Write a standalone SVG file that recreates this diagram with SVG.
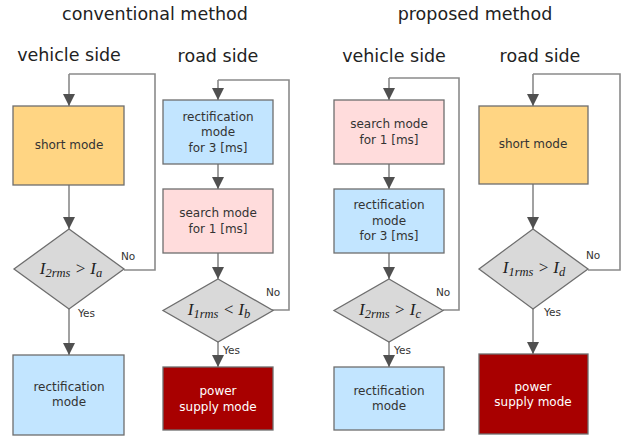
<svg xmlns="http://www.w3.org/2000/svg" width="626" height="438" viewBox="0 0 626 438">
<defs>
<style>
.h{font-family:"DejaVu Sans","Verdana",sans-serif;font-size:17.5px;fill:#222;text-anchor:middle}
.t{font-family:"DejaVu Sans",sans-serif;font-size:12px;fill:#333;text-anchor:middle}
.w{font-family:"DejaVu Sans",sans-serif;font-size:12px;fill:#fff;text-anchor:middle}
.l{font-family:"DejaVu Sans",sans-serif;font-size:10.5px;fill:#333}
.m{font-family:"Liberation Serif","Times New Roman",serif;font-style:italic;font-size:17px;fill:#222;text-anchor:middle}
.s{font-size:12.5px}
.box{stroke:#6e6e6e;stroke-width:1.3}
.or{fill:#FFD583}.bl{fill:#C2E5FF}.pk{fill:#FFDCDC}.rd{fill:#A80000}.dm{fill:#D9D9D9}
.c{fill:none;stroke:#8a8a8a;stroke-width:1.6}
</style>
<marker id="a" markerUnits="userSpaceOnUse" markerWidth="12" markerHeight="12" viewBox="0 0 12 12" refX="12" refY="6" orient="auto">
<path d="M0,0L12,6L0,12Z" fill="#505050"/>
</marker>
</defs>

<g id="headings">
<text class="h" x="155" y="20">conventional method</text>
<text class="h" x="475" y="20">proposed method</text>
<text class="h" x="69" y="61">vehicle side</text>
<text class="h" x="218" y="62">road side</text>
<text class="h" x="394" y="62">vehicle side</text>
<text class="h" x="540" y="62">road side</text>
</g>

<g id="connectors">
<path class="c" d="M69,74H155V270H124"/>
<path class="c" d="M69,74V106" marker-end="url(#a)"/>
<path class="c" d="M69,185V229" marker-end="url(#a)"/>
<path class="c" d="M69,309V355" marker-end="url(#a)"/>
<path class="c" d="M218,80H289V310H272"/>
<path class="c" d="M218,80V100" marker-end="url(#a)"/>
<path class="c" d="M218,164V189" marker-end="url(#a)"/>
<path class="c" d="M218,253V279" marker-end="url(#a)"/>
<path class="c" d="M218,342V367" marker-end="url(#a)"/>
<path class="c" d="M389,78H459V310H443"/>
<path class="c" d="M389,78V100" marker-end="url(#a)"/>
<path class="c" d="M389,164V189" marker-end="url(#a)"/>
<path class="c" d="M389,253V279" marker-end="url(#a)"/>
<path class="c" d="M389,342V367" marker-end="url(#a)"/>
<path class="c" d="M533,74H620V270H588"/>
<path class="c" d="M533,74V106" marker-end="url(#a)"/>
<path class="c" d="M533,184V229" marker-end="url(#a)"/>
<path class="c" d="M533,309V354" marker-end="url(#a)"/>
<text class="l" x="121" y="260">No</text>
<text class="l" x="78" y="317">Yes</text>
<text class="l" x="266" y="296">No</text>
<text class="l" x="223" y="354">Yes</text>
<text class="l" x="436" y="296">No</text>
<text class="l" x="394" y="354">Yes</text>
<text class="l" x="586" y="259">No</text>
<text class="l" x="544" y="316">Yes</text>
</g>

<g id="n1"><rect class="box or" x="13" y="106" width="111" height="79"/><text class="t" x="69" y="149">short mode</text></g>
<g id="n2"><path class="box dm" d="M69,229L124,269L69,309L14,269Z"/><text class="m" x="71" y="274">I<tspan class="s" dy="3">2rms</tspan><tspan dy="-3"> &gt; I</tspan><tspan class="s" dy="3">a</tspan></text></g>
<g id="n3"><rect class="box bl" x="13" y="355" width="111" height="80"/><text class="t" x="69" y="391">rectification</text><text class="t" x="69" y="406">mode</text></g>

<g id="n4"><rect class="box bl" x="163" y="100" width="110" height="64"/><text class="t" x="218" y="121">rectification</text><text class="t" x="218" y="136">mode</text><text class="t" x="218" y="152">for 3 [ms]</text></g>
<g id="n5"><rect class="box pk" x="163" y="189" width="110" height="64"/><text class="t" x="218" y="217">search mode</text><text class="t" x="218" y="233">for 1 [ms]</text></g>
<g id="n6"><path class="box dm" d="M218,279L273,310.5L218,342L163,310.5Z"/><text class="m" x="219" y="315">I<tspan class="s" dy="3">1rms</tspan><tspan dy="-3"> &lt; I</tspan><tspan class="s" dy="3">b</tspan></text></g>
<g id="n7"><rect class="box rd" x="163" y="367" width="110" height="63"/><text class="w" x="218" y="395">power</text><text class="w" x="218" y="411">supply mode</text></g>

<g id="n8"><rect class="box pk" x="334" y="100" width="110" height="64"/><text class="t" x="389" y="128">search mode</text><text class="t" x="389" y="144">for 1 [ms]</text></g>
<g id="n9"><rect class="box bl" x="334" y="189" width="110" height="64"/><text class="t" x="389" y="209">rectification</text><text class="t" x="389" y="225">mode</text><text class="t" x="389" y="240">for 3 [ms]</text></g>
<g id="n10"><path class="box dm" d="M389,279L443,310.5L389,342L334,310.5Z"/><text class="m" x="390" y="315">I<tspan class="s" dy="3">2rms</tspan><tspan dy="-3"> &gt; I</tspan><tspan class="s" dy="3">c</tspan></text></g>
<g id="n11"><rect class="box bl" x="334" y="367" width="110" height="63"/><text class="t" x="389" y="395">rectification</text><text class="t" x="389" y="410">mode</text></g>

<g id="n12"><rect class="box or" x="479" y="106" width="109" height="78"/><text class="t" x="533" y="148">short mode</text></g>
<g id="n13"><path class="box dm" d="M533,229L588,269L533,309L479,269Z"/><text class="m" x="534" y="273">I<tspan class="s" dy="3">1rms</tspan><tspan dy="-3"> &gt; I</tspan><tspan class="s" dy="3">d</tspan></text></g>
<g id="n14"><rect class="box rd" x="479" y="354" width="109" height="80"/><text class="w" x="533" y="391">power</text><text class="w" x="533" y="406">supply mode</text></g>
</svg>
